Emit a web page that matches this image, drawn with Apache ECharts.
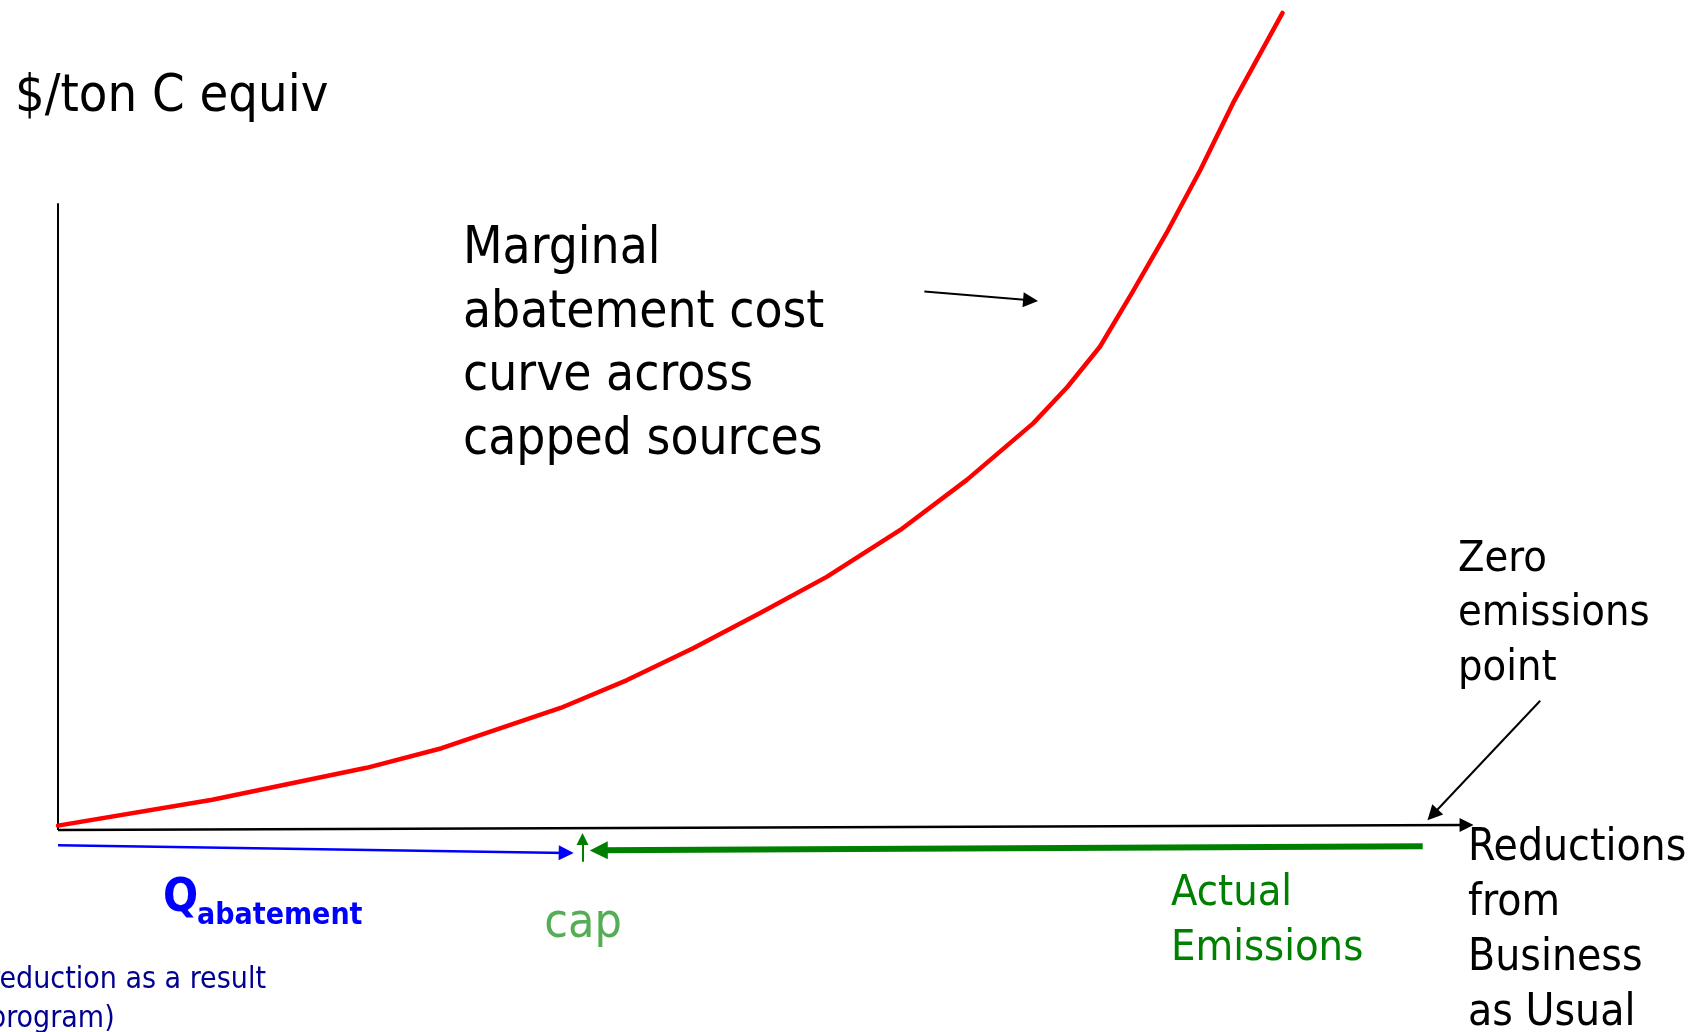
<!DOCTYPE html>
<html>
<head>
<meta charset="utf-8">
<title>Marginal abatement cost curve</title>
<script src="https://cdn.jsdelivr.net/npm/echarts@6/dist/echarts.min.js"></script>
<style>
    html, body { margin: 0; padding: 0; background: #fff; }
    #chart { width: 1706px; height: 1032px; }
</style>
</head>
<body>
<div id="chart"></div>
<script>
    // marginal abatement cost curve (x: reductions from BAU, y: $/ton C equiv)
    var curveX = [0, 10.9, 21.8, 27.1, 35.5, 40.2, 44.9, 49.6, 54.3, 59.5, 64.2, 68.9, 71.3, 73.6, 75.9, 78.3, 80.7, 83.0, 86.5];
    var curveY = [0, 5.0, 11.2, 15.0, 22.8, 28.2, 34.4, 41.2, 48.2, 57.3, 67.0, 78.0, 85.0, 92.8, 103.4, 114.8, 127.1, 140.0, 157.5];

    // axis lines [from, to]
    var yAxisLine = [[0, -0.85], [0, 120.6]];
    var xAxisLine = [[0, -0.85], [99.5, 0.1]];

    // pointer arrows to the curve and to the zero emissions point
    var curvePointer = [[61.2, 103.5], [68.7, 101.8]];
    var zeroPointer = [[104.7, 24.2], [97.1, 2.1]];

    // quantities under the axis
    var abatementArrow = [[0, -3.8], [35.9, -5.3]];
    var emissionsArrow = [[96.4, -4.0], [38.2, -4.8]];
    var capArrow = [[37.05, -7.0], [37.05, -2.6]];

    var titleText = '$/ton C equiv';
    var curveLabel = ['Marginal', 'abatement cost', 'curve across', 'capped sources'];
    var zeroLabel = ['Zero', 'emissions', 'point'];
    var xLabel = ['Reductions', 'from', 'Business', 'as Usual'];
    var emissionsLabel = ['Actual', 'Emissions'];
    var noteLabel = ['reduction as a result', 'program)'];

    var FONT = '"DejaVu Sans Condensed", "DejaVu Sans", sans-serif';

    function arrow(name, seg, color, width, size) {
        return {
            name: name,
            type: 'lines',
            coordinateSystem: 'cartesian2d',
            polyline: false,
            silent: true,
            symbol: ['none', 'triangle'],
            symbolSize: size,
            lineStyle: { color: color, width: width, opacity: 1, curveness: 0 },
            data: [{ coords: seg }],
            z: 5
        };
    }

    function plainLine(name, seg, color, width) {
        var s = arrow(name, seg, color, width, 0);
        s.symbol = ['none', 'none'];
        return s;
    }

    // one text element per line, placed by its baseline
    function lineTexts(lines, x, baseline, step, size, color, weight, align) {
        return lines.map(function (t, i) {
            return {
                type: 'text',
                x: x,
                y: baseline + i * step - size * 0.79,
                style: {
                    text: t,
                    font: (weight || 'normal') + ' ' + size + 'px ' + FONT,
                    fill: color,
                    align: align || 'left',
                    verticalAlign: 'top'
                }
            };
        });
    }

    var chart = echarts.init(document.getElementById('chart'));

    var graphics = []
        .concat(lineTexts([titleText], 15, 113, 0, 52, '#000'))
        .concat(lineTexts(curveLabel, 463, 265, 63.5, 51, '#000'))
        .concat(lineTexts(zeroLabel, 1458, 572, 54.5, 43, '#000'))
        .concat(lineTexts(xLabel, 1468, 861.5, 54.8, 44, '#000'))
        .concat(lineTexts(emissionsLabel, 1171, 906.6, 54.5, 43, '#008000'))
        .concat(lineTexts(['cap'], 583, 938.3, 0, 48, '#55ad55', 'normal', 'center'))
        .concat(lineTexts(['Q'], 163, 912.6, 0, 46, '#0000ff', 'bold'))
        .concat(lineTexts(['abatement'], 197, 925.2, 0, 30, '#0000ff', 'bold'))
        .concat(lineTexts(noteLabel, -11, 989, 39, 30, '#00008f'));

    chart.setOption({
        backgroundColor: '#fff',
        animation: false,
        grid: { left: 58, right: 20, top: 0, bottom: 0 },
        xAxis: { type: 'value', min: 0, max: 115, show: false },
        yAxis: { type: 'value', min: -40, max: 160, show: false },
        graphic: graphics,
        series: [
            plainLine('y axis', yAxisLine, '#000', 2),
            arrow('x axis', xAxisLine, '#000', 2.5, 14),
            {
                name: 'Marginal abatement cost',
                type: 'line',
                data: curveX.map(function (x, i) { return [x, curveY[i]]; }),
                smooth: false,
                showSymbol: false,
                clip: false,
                lineStyle: { color: '#ff0000', width: 4.5, join: 'round', cap: 'round' },
                z: 6
            },
            arrow('curve pointer', curvePointer, '#000', 2, 15),
            arrow('zero pointer', zeroPointer, '#000', 2, 15),
            arrow('Q abatement', abatementArrow, '#0000ff', 2.5, 15),
            arrow('actual emissions', emissionsArrow, '#008000', 6, 18),
            arrow('cap', capArrow, '#008000', 2, 12)
        ]
    });
</script>
</body>
</html>
